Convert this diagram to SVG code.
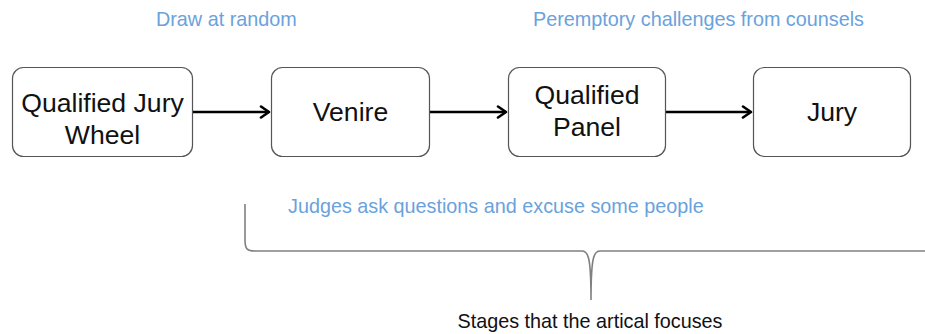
<svg xmlns="http://www.w3.org/2000/svg" width="925" height="334" viewBox="0 0 925 334">
<defs>
<style>
.box{fill:#fff;stroke:#555;stroke-width:1.2}
.nt{font-family:"Liberation Sans",Arial,sans-serif;font-size:26.6px;fill:#111;text-anchor:middle}
.lbl{font-family:"Liberation Sans",Arial,sans-serif;font-size:19.8px;fill:#6aa2dc}
.edge{stroke:#000;stroke-width:2.6;fill:none}
.brace{stroke:#808080;stroke-width:1.6;fill:none}
</style>
<marker id="arr" viewBox="0 0 14 14" refX="12" refY="7" markerWidth="14" markerHeight="14" markerUnits="userSpaceOnUse" orient="auto">
<path d="M4,1.5 L12,7 L4,12.5" fill="none" stroke="#000" stroke-width="2.6" stroke-linecap="round" stroke-linejoin="round"/>
</marker>
</defs>
<rect width="925" height="334" fill="#fff"/>
<g id="edges">
<line class="edge" x1="193" y1="112" x2="269" y2="112" marker-end="url(#arr)"/>
<line class="edge" x1="430" y1="112" x2="506" y2="112" marker-end="url(#arr)"/>
<line class="edge" x1="666" y1="112" x2="751" y2="112" marker-end="url(#arr)"/>
</g>
<g id="n1">
<rect class="box" x="12.5" y="67.5" width="180" height="89" rx="11"/>
<text class="nt" x="102.5" y="112">Qualified Jury</text>
<text class="nt" x="102.5" y="144">Wheel</text>
</g>
<g id="n2">
<rect class="box" x="271.5" y="67.5" width="158" height="89" rx="11"/>
<text class="nt" x="350.5" y="121">Venire</text>
</g>
<g id="n3">
<rect class="box" x="508.5" y="67.5" width="157" height="89" rx="11"/>
<text class="nt" x="587" y="104">Qualified</text>
<text class="nt" x="587" y="136">Panel</text>
</g>
<g id="n4">
<rect class="box" x="753.5" y="67.5" width="157" height="89" rx="11"/>
<text class="nt" x="832" y="121">Jury</text>
</g>
<g id="labels">
<text class="lbl" x="156" y="26">Draw at random</text>
<text class="lbl" x="533" y="26">Peremptory challenges from counsels</text>
<text class="lbl" x="288" y="213">Judges ask questions and excuse some people</text>
</g>
<g id="brace">
<path class="brace" d="M245,204 L245,240 C245,249 247,251 255,251 L582,251 C588,251 591,256 591,300 C591,256 594,251 600,251 L925,251"/>
<text x="590" y="328" font-family="'Liberation Sans',Arial,sans-serif" font-size="19.8" fill="#111" text-anchor="middle">Stages that the artical focuses</text>
</g>
</svg>
